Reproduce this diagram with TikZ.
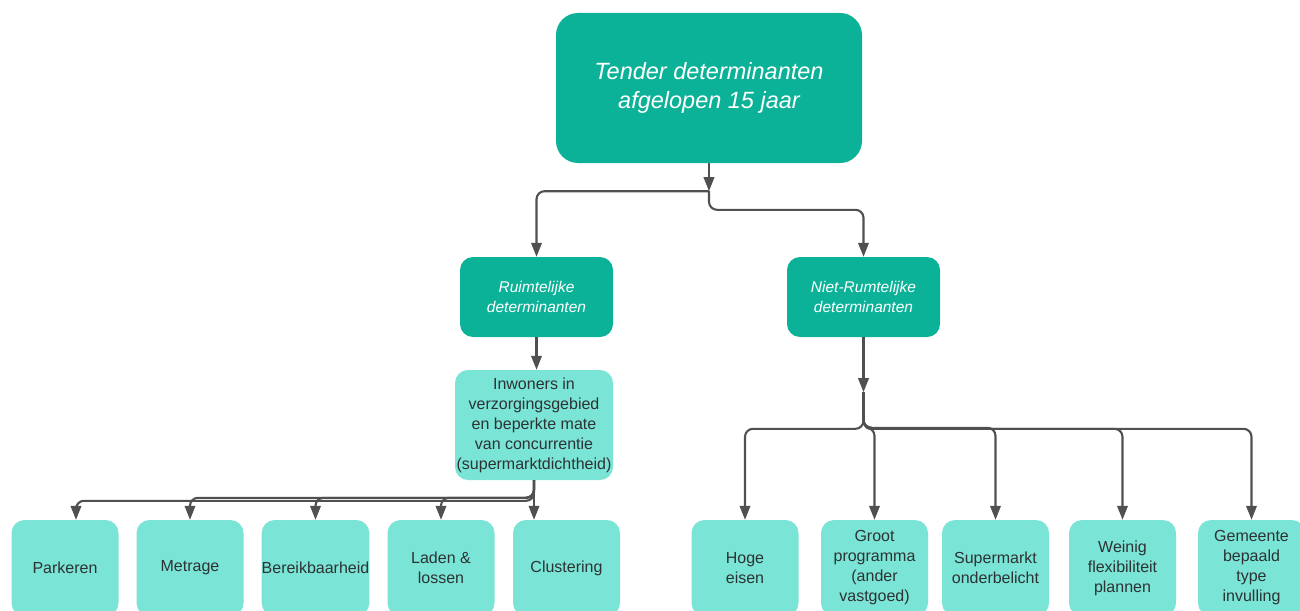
\documentclass[tikz,border=0pt]{standalone}
\usepackage{fontspec}
\newfontfamily\diagfont{Liberation Sans}
\usetikzlibrary{arrows.meta,calc}
\definecolor{tealdark}{RGB}{12,178,152}
\definecolor{teallight}{RGB}{122,228,214}
\definecolor{linegray}{RGB}{80,80,80}
\definecolor{leaftext}{RGB}{45,50,50}

\begin{document}
\begin{tikzpicture}[x=1pt,y=-1pt,
  box/.style={rectangle, anchor=center, inner sep=0pt, align=center},
  headbox/.style={box, fill=tealdark, text=white, rounded corners=22pt,
    minimum width=306pt, minimum height=150pt,
    font=\diagfont\itshape\fontsize{23.5}{29}\selectfont},
  midbox/.style={box, fill=tealdark, text=white, rounded corners=13pt,
    minimum width=153pt, minimum height=80pt,
    font=\diagfont\itshape\fontsize{15.5}{20}\selectfont},
  leafbox/.style={box, fill=teallight, text=leaftext, rounded corners=13pt,
    minimum width=107pt, minimum height=96pt,
    font=\diagfont\fontsize{16}{20}\selectfont},
  conn/.style={draw=linegray, line width=2.1pt, rounded corners=8pt},
  tip/.style={-{Triangle[length=14pt,width=10.5pt]}}
]
\useasboundingbox (0,0) rectangle (1300,610);
\clip (0,0) rectangle (1300,610);

% hierarchy levels
\node[headbox] (top) at (709,88) {Tender determinanten\\afgelopen 15 jaar};
\node[midbox] (ruim) at (536.5,297) {Ruimtelijke\\determinanten};
\node[midbox] (niet) at (863.5,297) {Niet-Rumtelijke\\determinanten};
\node[leafbox, minimum width=158pt, minimum height=110pt] (inw) at (534,425)
  {Inwoners in\\verzorgingsgebied\\en beperkte mate\\van concurrentie\\(supermarktdichtheid)};

% spatial leaves
\node[leafbox] (park) at (65,568) {Parkeren};
\node[leafbox] (metr) at (190,568) {Metrage};
\node[leafbox] (bere) at (315.5,568) {Bereikbaarheid};
\node[leafbox] (lade) at (441,568) {Laden \&\\lossen};
\node[leafbox] (clus) at (566.5,568) {Clustering};

% non-spatial leaves
\node[leafbox] (hoge) at (745,568) {Hoge\\eisen};
\node[leafbox] (groo) at (874.5,568) {Groot\\programma\\(ander\\vastgoed)};
\node[leafbox] (supe) at (995.5,568) {Supermarkt\\onderbelicht};
\node[leafbox] (wein) at (1122.5,568) {Weinig\\flexibiliteit\\plannen};
\node[leafbox] (geme) at (1251.5,568) {Gemeente\\bepaald\\type\\invulling};

% top split
\draw[conn,tip] (top.south) -- ++(0,28);
\draw[conn,tip] ($(top.south)+(0,28)$) -| (ruim.north);
\draw[conn,tip] ($(top.south)+(0,28)$) |- ($(niet.north)+(0,-47)$) -- (niet.north);

% spatial branch
\draw[conn,tip] (ruim.south) -- (ruim.south |- inw.north);
\draw[conn,tip] (inw.south) |- ($(park.north)+(11,-19)$) -- ($(park.north)+(11,0)$);
\draw[conn,tip] (inw.south) |- ($(metr.north)+(0,-22)$) -- (metr.north);
\draw[conn,tip] (inw.south) |- ($(bere.north)+(0,-22)$) -- (bere.north);
\draw[conn,tip] (inw.south) |- ($(lade.north)+(0,-22)$) -- (lade.north);
\draw[conn,tip] (inw.south) -- (inw.south |- clus.north);

% non-spatial branch
\draw[conn,tip] (niet.south) -- ++(0,55);
\draw[conn,tip] ($(niet.south)+(0,55)$) |- ($(hoge.north)+(0,-91)$) -- (hoge.north);
\draw[conn,tip] ($(niet.south)+(0,55)$) |- ($(groo.north)+(0,-92)$) -- (groo.north);
\draw[conn,tip] ($(niet.south)+(0,55)$) |- ($(supe.north)+(0,-92)$) -- (supe.north);
\draw[conn,tip] ($(niet.south)+(0,55)$) |- ($(wein.north)+(0,-91)$) -- (wein.north);
\draw[conn,tip] ($(niet.south)+(0,55)$) |- ($(geme.north)+(0,-91)$) -- (geme.north);
\end{tikzpicture}
\end{document}
